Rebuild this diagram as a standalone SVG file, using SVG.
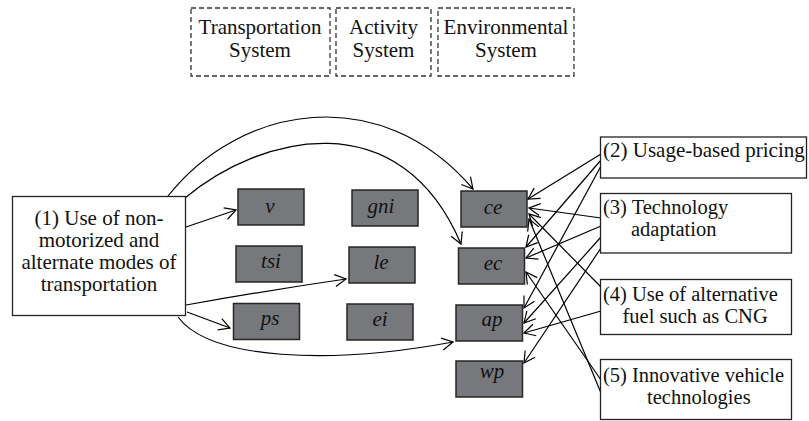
<svg xmlns="http://www.w3.org/2000/svg" width="809" height="421" viewBox="0 0 809 421" font-family="'Liberation Serif', 'DejaVu Serif', serif">
<defs>
<marker id="arr" markerUnits="userSpaceOnUse" markerWidth="14" markerHeight="14" refX="11" refY="6" orient="auto" overflow="visible">
<path d="M0,0 L11,6 L0,12" fill="none" stroke="#000" stroke-width="1.2"/>
</marker>
<style>
text{font-family:'Liberation Serif','DejaVu Serif',serif;font-size:21px;fill:#111}
.s{font-size:20.5px}
.dash{fill:#fff;stroke:#333;stroke-width:1.3;stroke-dasharray:5,3}
.box{fill:#fff;stroke:#222;stroke-width:1.3}
.g{fill:#77787c;stroke:#262626;stroke-width:1.5}
.gl{font-style:italic;text-anchor:middle}
.c{text-anchor:middle}
.e{fill:none;stroke:#000;stroke-width:1.2;marker-end:url(#arr)}
</style>
</defs>
<g id="top-transportation"><rect class="dash" x="191" y="8" width="139" height="68"/><text class="c" x="260" y="34">Transportation</text><text class="c" x="260" y="57">System</text></g>
<g id="top-activity"><rect class="dash" x="336" y="8" width="95" height="68"/><text class="c" x="383.5" y="34">Activity</text><text class="c" x="383.5" y="57">System</text></g>
<g id="top-environmental"><rect class="dash" x="438" y="8" width="136" height="68"/><text class="c" x="506" y="34">Environmental</text><text class="c" x="506" y="57">System</text></g>

<g id="connectors">
<path class="e" d="M168,196 C240,105 380,80 473,189"/>
<path class="e" d="M185,198 C260,135 400,100 461,244"/>
<path class="e" d="M186,227 L236,210"/>
<path class="e" d="M186,305 Q270,290 346,279"/>
<path class="e" d="M187,312 L230,328"/>
<path class="e" d="M178,317 C210,360 330,365 453,342"/>
<path class="e" d="M601,154 L528,199"/>
<path class="e" d="M601,218 L529,208"/>
<path class="e" d="M601,287 L529,214"/>
<path class="e" d="M601,393 L529,219"/>
<path class="e" d="M601,160 L526,247"/>
<path class="e" d="M601,226 L526,258"/>
<path class="e" d="M601,380 L526,272"/>
<path class="e" d="M601,166 L524,308"/>
<path class="e" d="M601,237 L524,323"/>
<path class="e" d="M601,311 L524,333"/>
<path class="e" d="M601,248 L524,363"/>
</g>

<g id="n1"><rect class="box" x="12.5" y="196.5" width="173" height="119"/>
<text class="c" x="99" y="225">(1) Use of non-</text><text class="c" x="99" y="247">motorized and</text><text class="c" x="99" y="269">alternate modes of</text><text class="c" x="99" y="291">transportation</text></g>

<g id="v"><rect class="g" x="238" y="189" width="66" height="36"/><text class="gl" x="270" y="213">v</text></g>
<g id="gni"><rect class="g" x="352" y="190" width="66" height="36"/><text class="gl" x="381" y="213">gni</text></g>
<g id="ce"><rect class="g" x="461" y="191" width="66" height="36"/><text class="gl" x="493" y="214">ce</text></g>
<g id="tsi"><rect class="g" x="236" y="246" width="66" height="36"/><text class="gl" x="271" y="268">tsi</text></g>
<g id="le"><rect class="g" x="349" y="247" width="66" height="36"/><text class="gl" x="381" y="269">le</text></g>
<g id="ec"><rect class="g" x="458.5" y="248" width="66" height="36"/><text class="gl" x="493" y="270">ec</text></g>
<g id="ps"><rect class="g" x="233.5" y="303.5" width="66" height="36"/><text class="gl" x="270" y="325">ps</text></g>
<g id="ei"><rect class="g" x="347" y="304" width="66" height="36"/><text class="gl" x="380" y="326">ei</text></g>
<g id="ap"><rect class="g" x="456" y="305" width="66.5" height="36"/><text class="gl" x="492" y="326">ap</text></g>
<g id="wp"><rect class="g" x="456" y="361" width="66.5" height="36"/><text class="gl" x="492" y="378">wp</text></g>

<g id="n2"><rect class="box" x="600.5" y="137" width="206" height="41"/><text x="603" y="157">(2) Usage-based pricing</text></g>
<g id="n3"><rect class="box" x="600.5" y="193.5" width="191" height="59.5"/><text class="s" x="603" y="214">(3) Technology</text><text class="s" x="631" y="236">adaptation</text></g>
<g id="n4"><rect class="box" x="600.5" y="279.5" width="191" height="55"/><text class="s" x="603" y="300.5">(4) Use of alternative</text><text class="s" x="622.5" y="322.5">fuel such as CNG</text></g>
<g id="n5"><rect class="box" x="600.5" y="359.5" width="191" height="60"/><text class="s" x="603" y="382">(5) Innovative vehicle</text><text class="s" x="647" y="404">technologies</text></g>
</svg>
